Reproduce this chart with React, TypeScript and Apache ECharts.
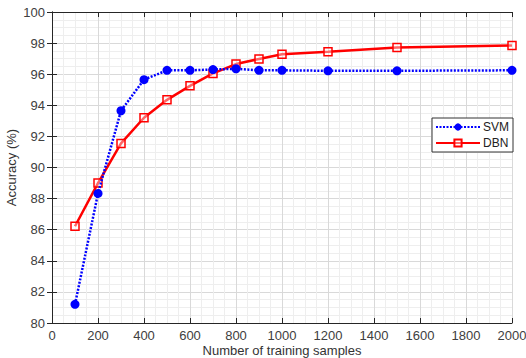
import React, { useEffect, useRef } from "react";
import * as echarts from "echarts";

const samples = [100, 200, 300, 400, 500, 600, 700, 800, 900, 1000, 1200, 1500, 2000];
const svmAcc = [81.2, 88.33, 93.65, 95.65, 96.25, 96.25, 96.3, 96.35, 96.25, 96.25, 96.22, 96.22, 96.25];
const dbnAcc = [86.22, 89.0, 91.55, 93.2, 94.35, 95.25, 96.05, 96.65, 96.98, 97.28, 97.45, 97.72, 97.85];

const font = "'Liberation Sans', Arial, sans-serif";

export default function App() {
  const ref = useRef<HTMLDivElement>(null);
  useEffect(() => {
    if (!ref.current) return;
    const chart = echarts.init(ref.current, null, { renderer: "svg" });
    const axisLine = { show: true, lineStyle: { color: "#262626", width: 1 } };
    const splitLine = { show: true, lineStyle: { color: "#d9d9d9", width: 1 } };
    const minorSplitLine = { show: true, lineStyle: { color: "#eeeeee", width: 1 } };
    const tick = { show: true, inside: true, length: 5, lineStyle: { color: "#262626" } };
    chart.setOption({
      animation: false,
      backgroundColor: "#ffffff",
      grid: { left: 52, right: 14, top: 12, bottom: 35, containLabel: false, outerBoundsMode: "none" },
      legend: {
        orient: "vertical",
        left: 432,
        top: 118,
        backgroundColor: "#ffffff",
        borderColor: "#333333",
        borderWidth: 1,
        borderRadius: 0,
        padding: [3, 4, 3, 3],
        itemGap: 4,
        itemWidth: 44,
        itemHeight: 9,
        textStyle: { fontFamily: font, fontSize: 12, color: "#222", padding: [0, 0, 0, -2] },
        data: ["SVM", "DBN"],
      },
      xAxis: [
        {
          type: "value",
          min: 0,
          max: 2000,
          interval: 200,
          name: "Number of training samples",
          nameLocation: "middle",
          nameGap: 21,
          nameMoveOverlap: false,
          nameTextStyle: { fontFamily: font, fontSize: 13, lineHeight: 13, color: "#333" },
          axisLine,
          axisTick: tick,
          axisLabel: { fontFamily: font, fontSize: 13, lineHeight: 13, color: "#404040", margin: 6, formatter: (v: number) => String(v) },
          splitLine,
          minorTick: { show: false, splitNumber: 4 },
          minorSplitLine,
        },
        {
          type: "value",
          position: "top",
          min: 0,
          max: 2000,
          interval: 200,
          axisLine,
          axisTick: tick,
          axisLabel: { show: false },
          splitLine: { show: false },
        },
      ],
      yAxis: [
        {
          type: "value",
          min: 80,
          max: 100,
          interval: 2,
          name: "Accuracy (%)",
          nameLocation: "middle",
          nameRotate: 90,
          nameGap: 34,
          nameMoveOverlap: false,
          nameTextStyle: { fontFamily: font, fontSize: 13, color: "#333" },
          axisLine,
          axisTick: tick,
          axisLabel: { fontFamily: font, fontSize: 13, color: "#404040", margin: 7 },
          splitLine,
          minorTick: { show: false, splitNumber: 4 },
          minorSplitLine,
        },
        {
          type: "value",
          position: "right",
          min: 80,
          max: 100,
          interval: 2,
          axisLine,
          axisTick: tick,
          axisLabel: { show: false },
          splitLine: { show: false },
        },
      ],
      series: [
        {
          name: "SVM",
          type: "line",
          data: samples.map((s, i) => [s, svmAcc[i]]),
          symbol: "circle",
          symbolSize: 9,
          itemStyle: { color: "#0000ff", borderWidth: 0 },
          lineStyle: { color: "#0000ff", width: 2.5, type: [2, 1.5] },
          z: 3,
        },
        {
          name: "DBN",
          type: "line",
          data: samples.map((s, i) => [s, dbnAcc[i]]),
          symbol: "rect",
          symbolSize: 8,
          itemStyle: { color: "rgba(255,255,255,0.4)", borderColor: "#ff0000", borderWidth: 1.5 },
          lineStyle: { color: "#ff0000", width: 2.5 },
          z: 2,
        },
      ],
    });
    return () => chart.dispose();
  }, []);
  return <div ref={ref} style={{ width: 526, height: 358, position: "absolute", left: 0, top: 0 }} />;
}
